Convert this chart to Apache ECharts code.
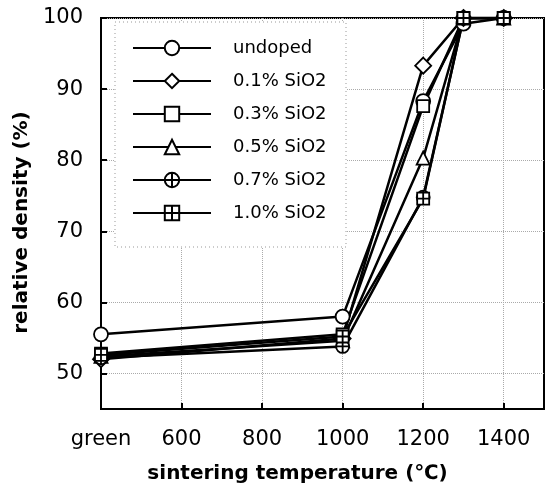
<!DOCTYPE html>
<html lang="en">
<head>
  <meta charset="UTF-8">
  <title>relative density</title>
  <style type="text/css">
    * {
      margin: 0;
      padding: 0;
    }
    html, body {
      width: 100%;
      height: 100%;
      background: #fff;
      overflow: hidden;
    }
    #main {
      width: 545px;
      height: 491px;
    }
  </style>
  <script type="text/javascript" src="https://cdn.jsdelivr.net/npm/echarts@6/dist/echarts.min.js"></script>
</head>
<body>
<div id="main"></div>
<script type="text/javascript">
  // sintering temperature, "green" = unfired body drawn at 400
  var temps = [400, 1000, 1200, 1300, 1400];
  var seriesNames = ['undoped', '0.1% SiO2', '0.3% SiO2', '0.5% SiO2', '0.7% SiO2', '1.0% SiO2'];
  var undoped = [55.5, 58.0, 88.3, 99.2, 100];
  var sio2_01 = [52.0, 54.9, 93.3, 100, 100];
  var sio2_03 = [52.8, 55.5, 87.6, 100, 100];
  var sio2_05 = [52.4, 54.6, 80.3, 100, 100];
  var sio2_07 = [52.2, 53.8, 74.8, 100, 100];
  var sio2_10 = [52.6, 55.2, 74.6, 100, 100];
  var xTicks = [400, 600, 800, 1000, 1200, 1400];
  var xTickLabels = ['green', '600', '800', '1000', '1200', '1400'];
  var yTicks = [50, 60, 70, 80, 90, 100];

  var circlePlus = 'path://M0,-10 A10,10 0 1,1 0,10 A10,10 0 1,1 0,-10 Z M-10,0 L10,0 M0,-10 L0,10';
  var squarePlus = 'path://M-10,-10 L10,-10 L10,10 L-10,10 Z M-10,0 L10,0 M0,-10 L0,10';
  var symbols = ['circle', 'diamond', 'rect', 'triangle', circlePlus, squarePlus];
  var sizes = [14, 16, 12, 13, 13, 12];
  var allData = [undoped, sio2_01, sio2_03, sio2_05, sio2_07, sio2_10];

  var series = [];
  for (var i = 0; i < allData.length; i++) {
    var pts = [];
    for (var j = 0; j < temps.length; j++) {
      pts.push([temps[j], allData[i][j]]);
    }
    series.push({
      name: seriesNames[i],
      type: 'line',
      data: pts,
      symbol: symbols[i],
      symbolSize: sizes[i],
      showAllSymbol: true,
      lineStyle: { color: '#000', width: 2.5 },
      itemStyle: { color: '#fff', borderColor: '#000', borderWidth: 1.8 },
      z: 3
    });
  }

  var myChart = echarts.init(document.getElementById('main'));
  var option = {
    animation: false,
    backgroundColor: '#fff',
    textStyle: { fontFamily: 'DejaVu Sans', color: '#000' },
    grid: {
      left: 101,
      top: 18,
      right: 1,
      bottom: 82,
      show: true,
      borderColor: '#000',
      borderWidth: 2
    },
    graphic: [{
      type: 'rect',
      z: 1,
      shape: { x: 115, y: 22, width: 231, height: 225 },
      style: { fill: '#fff', stroke: '#999', lineWidth: 1, lineDash: [1, 3] }
    }],
    legend: {
      orient: 'vertical',
      left: 132,
      top: 39,
      padding: 0,
      itemWidth: 78,
      itemHeight: 18,
      itemGap: 15,
      z: 5,
      textStyle: { fontFamily: 'DejaVu Sans', fontSize: 18, color: '#000', padding: [0, 0, 0, 17] },
      data: seriesNames
    },
    xAxis: {
      type: 'value',
      min: 400,
      max: 1500,
      interval: 200,
      axisLine: { lineStyle: { color: '#000', width: 2 } },
      axisTick: { inside: true, length: 6, lineStyle: { color: '#000', width: 2 }, customValues: xTicks },
      axisLabel: {
        margin: 20,
        fontSize: 21,
        color: '#000',
        customValues: xTicks,
        formatter: function (v) {
          var k = xTicks.indexOf(v);
          return k >= 0 ? xTickLabels[k] : '';
        }
      },
      splitLine: { show: true, lineStyle: { color: '#aaa', type: 'dotted', width: 1 } },
      name: 'sintering temperature (\u2103)',
      nameLocation: 'middle',
      nameGap: 55,
      nameTextStyle: { fontSize: 20, fontWeight: 'bold', color: '#000', padding: [0, 50, 0, 0] }
    },
    yAxis: {
      type: 'value',
      min: 45,
      max: 100,
      axisLine: { lineStyle: { color: '#000', width: 2 } },
      axisTick: { inside: true, length: 6, lineStyle: { color: '#000', width: 2 }, customValues: yTicks },
      axisLabel: { margin: 18, fontSize: 21, color: '#000', customValues: yTicks },
      splitLine: { show: true, lineStyle: { color: '#aaa', type: 'dotted', width: 1 } },
      name: 'relative density (%)',
      nameLocation: 'middle',
      nameGap: 69,
      nameTextStyle: { fontSize: 20, fontWeight: 'bold', color: '#000', padding: [0, 18, 0, 0] }
    },
    series: series
  };
  myChart.setOption(option);
</script>
</body>
</html>
